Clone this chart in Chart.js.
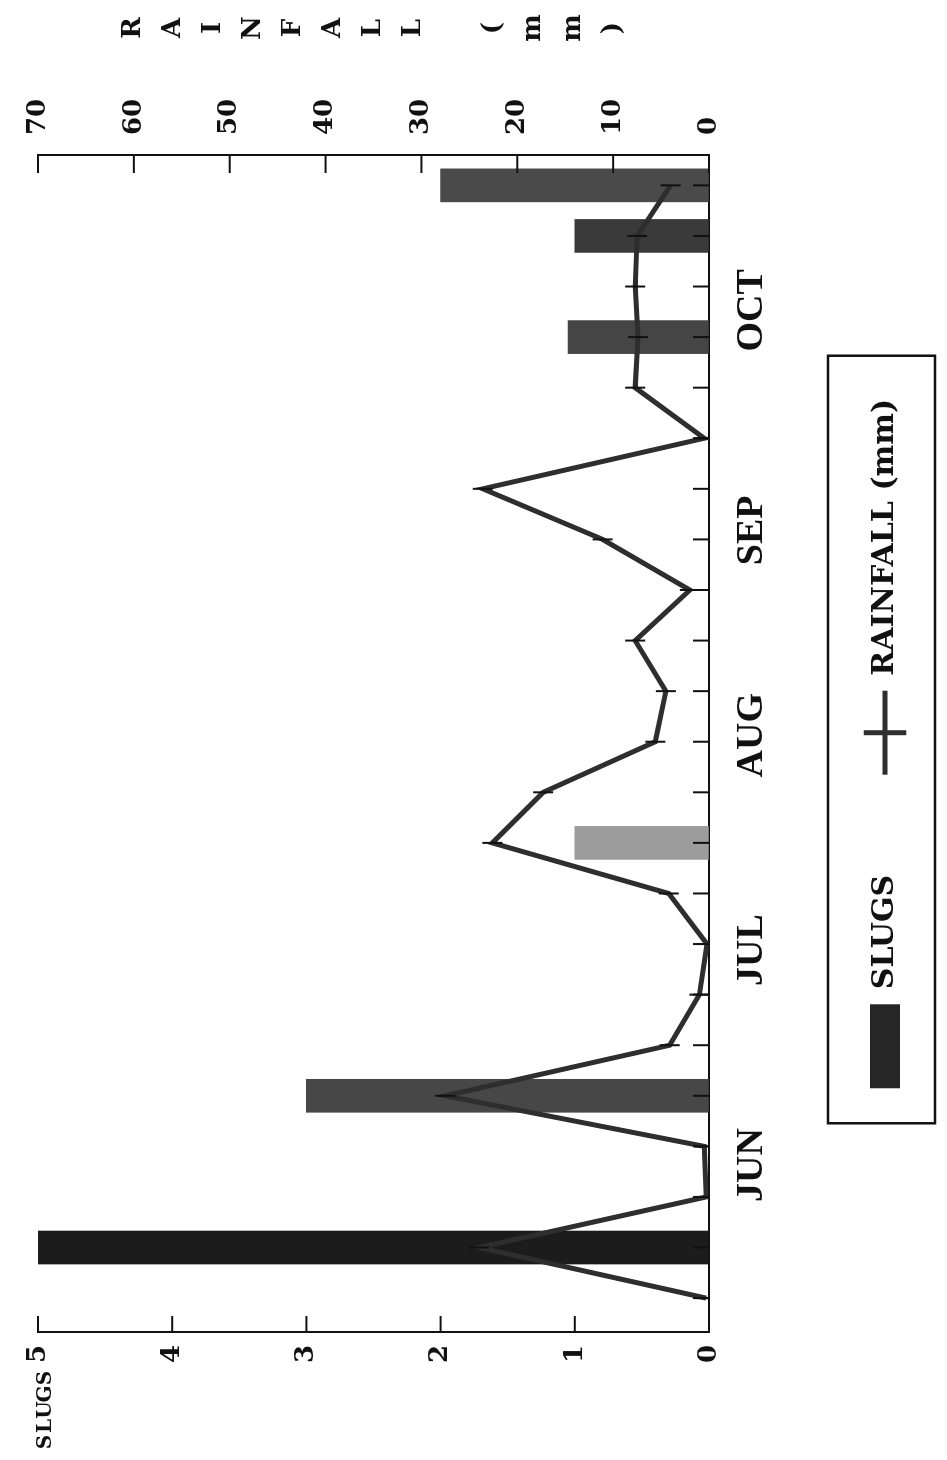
<!DOCTYPE html>
<html>
<head>
<meta charset="utf-8">
<title>Slugs and rainfall</title>
<script src="https://cdn.jsdelivr.net/npm/chart.js@4.4.1/dist/chart.umd.min.js"></script>
<style>
  html, body { margin: 0; padding: 0; background: #fff; overflow: hidden; width: 947px; height: 1460px; }
  /* the chart is drawn landscape, then turned a quarter left like the scanned page */
  #turn { position: absolute; left: 0; top: 0; width: 1460px; height: 947px;
          transform-origin: 0 0; transform: translate(0, 1460px) rotate(-90deg); }
  canvas { display: block; }
</style>
</head>
<body>
<div id="turn"><canvas id="slugChart" width="1460" height="947"></canvas></div>
<script>
// ─────────────────────────────────────────────
// 1. DATA  (weekly samples, June → October)
// ─────────────────────────────────────────────
const weeks    = [0, 1, 2, 3, 4, 5, 6, 7, 8, 9, 10, 11, 12, 13, 14, 15, 16, 17, 18, 19, 20, 21, 22];
const rainfall = [0.3, 24, 0.3, 0.5, 27.5, 4.1, 1.0, 0.2, 4.2, 22.6, 17.3, 5.6,
                  4.5, 7.7, 2.0, 11.1, 23.6, 0.5, 7.7, 7.4, 7.7, 7.5, 4.0];
const slugs    = [null, 5, null, null, 3, null, null, null, null, 1, null, null,
                  null, null, null, null, null, null, null, 1.05, null, 1.0, 2.0];

const months    = ['JUN', 'JUL', 'AUG', 'SEP', 'OCT'];
const monthAt   = [2.63, 6.88, 11.13, 15.18, 19.53];   // week position of each month label
const slugTicks = [0, 1, 2, 3, 4, 5];
const rainTicks = [0, 10, 20, 30, 40, 50, 60, 70];

const slugTitle = 'SLUGS';
const rainTitle = 'RAINFALL (mm)';

// shading of each bar in the scan (style only)
const barShades = weeks.map(i => ({1: '#1c1c1c', 4: '#474747', 9: '#9c9c9c',
                                   19: '#454545', 21: '#3a3a3a', 22: '#4a4a4a'}[i] || '#2a2a2a'));

const INK   = '#111111';
const SERIF = "'DejaVu Serif', 'Liberation Serif', serif";

// ─────────────────────────────────────────────
// 2. PLUGINS: inward tick marks, axis titles, legend frame
// ─────────────────────────────────────────────
const insideTicks = {
  id: 'insideTicks',
  afterDraw(chart) {
    const { ctx, chartArea: a, scales } = chart;
    ctx.save();
    ctx.strokeStyle = INK;
    ctx.lineWidth = 2;
    const seg = (x1, y1, x2, y2) => { ctx.beginPath(); ctx.moveTo(x1, y1); ctx.lineTo(x2, y2); ctx.stroke(); };
    scales.x.ticks.forEach(t => { const p = scales.x.getPixelForValue(t.value); seg(p, a.bottom, p, a.bottom - 16); });
    scales.y.ticks.forEach(t => { const p = scales.y.getPixelForValue(t.value); seg(a.left, p, a.left + 16, p); });
    scales.y1.ticks.forEach(t => { const p = scales.y1.getPixelForValue(t.value); seg(a.right, p, a.right - 18, p); });
    ctx.restore();
  }
};

const axisTitles = {
  id: 'axisTitles',
  afterDraw(chart) {
    const { ctx, chartArea: a, scales } = chart;
    ctx.save();
    ctx.fillStyle = INK;
    ctx.textAlign = 'center';
    ctx.textBaseline = 'middle';
    // rainfall: letters stacked one under another, right of the axis
    ctx.font = 'bold 26px ' + SERIF;
    const ux = scales.y1.right + 69;
    [...rainTitle].forEach((ch, i) => ctx.fillText(ch, ux, a.top + 95 + i * 40));
    // slugs: spaced letters above the left axis labels
    ctx.font = 'bold 20px ' + SERIF;
    [...slugTitle].forEach((ch, i) => ctx.fillText(ch, scales.y.left - 70 + i * 16, a.top + 8));
    ctx.restore();
  }
};

const legendFrame = {
  id: 'legendFrame',
  afterDraw(chart) {
    const lg = chart.legend;
    if (!lg || !lg.legendHitBoxes.length) return;
    const hb = lg.legendHitBoxes;
    const left   = Math.min(...hb.map(b => b.left)) - 35;
    const right  = Math.max(...hb.map(b => b.left + b.width)) + 43;
    const top    = Math.min(...hb.map(b => b.top)) - 42;
    const bottom = Math.max(...hb.map(b => b.top + b.height)) + 35;
    const ctx = chart.ctx;
    ctx.save();
    ctx.strokeStyle = INK;
    ctx.lineWidth = 2.5;
    ctx.strokeRect(left, top, right - left, bottom - top);
    ctx.restore();
  }
};

// ─────────────────────────────────────────────
// 3. CHART
// ─────────────────────────────────────────────
const ctx = document.getElementById('slugChart').getContext('2d');

new Chart(ctx, {
  data: {
    datasets: [
      {
        type: 'bar',
        label: slugTitle,
        data: weeks.map((w, i) => ({ x: w, y: slugs[i] })),
        xAxisID: 'x',
        yAxisID: 'y',
        backgroundColor: barShades,
        borderWidth: 0,
        barThickness: 33,
        order: 2
      },
      {
        type: 'line',
        label: rainTitle,
        data: weeks.map((w, i) => ({ x: w, y: rainfall[i] })),
        xAxisID: 'x',
        yAxisID: 'y1',
        borderColor: '#2e2e2e',
        borderWidth: 5,
        tension: 0,
        pointStyle: 'line',
        pointRotation: 90,
        pointRadius: 10,
        pointBorderWidth: 2,
        pointBorderColor: INK,
        order: 1
      }
    ]
  },
  options: {
    responsive: false,
    animation: false,
    events: [],
    layout: { padding: { left: 88, right: 97, top: 38, bottom: 37 } },
    scales: {
      x: {
        type: 'linear', position: 'bottom', min: -0.67, max: 22.6, offset: false,
        afterBuildTicks: s => { s.ticks = weeks.map(w => ({ value: w })); },
        ticks: { display: false },
        grid: { drawOnChartArea: false, drawTicks: false, offset: false },
        border: { color: INK, width: 2 }
      },
      months: {
        type: 'linear', position: 'bottom', min: -0.67, max: 22.6, offset: false,
        afterBuildTicks: s => { s.ticks = monthAt.map(v => ({ value: v })); },
        afterFit: s => { s.height = 61; },
        ticks: {
          autoSkip: false, maxRotation: 0, padding: 12, color: INK,
          font: { family: "'Liberation Serif', serif", size: 38, weight: 'bold' },
          callback: (v, i) => months[i]
        },
        grid: { display: false },
        border: { display: false }
      },
      y: {
        position: 'left', min: 0, max: 5,
        afterBuildTicks: s => { s.ticks = slugTicks.map(v => ({ value: v })); },
        afterFit: s => { s.width = 40; },
        ticks: { padding: 13, color: INK, font: { family: SERIF, size: 26, weight: 'bold' } },
        grid: { drawOnChartArea: false, drawTicks: false },
        border: { color: INK, width: 2 }
      },
      y1: {
        position: 'right', min: 0, max: 70,
        afterBuildTicks: s => { s.ticks = rainTicks.map(v => ({ value: v })); },
        afterFit: s => { s.width = 58; },
        ticks: { padding: 20, color: INK, font: { family: SERIF, size: 26, weight: 'bold' } },
        grid: { drawOnChartArea: false, drawTicks: false },
        border: { color: INK, width: 2 }
      }
    },
    plugins: {
      tooltip: { enabled: false },
      legend: {
        position: 'bottom',
        fullSize: false,
        labels: {
          color: INK,
          font: { family: SERIF, size: 30, weight: 'bold' },
          usePointStyle: true,
          pointStyleWidth: 84,
          boxHeight: 30,
          padding: 100,
          sort: (a, b) => a.datasetIndex - b.datasetIndex,
          generateLabels: chart => Chart.defaults.plugins.legend.labels.generateLabels(chart).map(item => {
            if (item.datasetIndex === 0) {
              item.pointStyle = 'rect';
              item.fillStyle = '#262626';
              item.lineWidth = 0;
            } else {
              item.pointStyle = 'cross';
              item.strokeStyle = '#2e2e2e';
              item.lineWidth = 5;
            }
            return item;
          })
        }
      }
    }
  },
  plugins: [insideTicks, axisTitles, legendFrame]
});
</script>
</body>
</html>
